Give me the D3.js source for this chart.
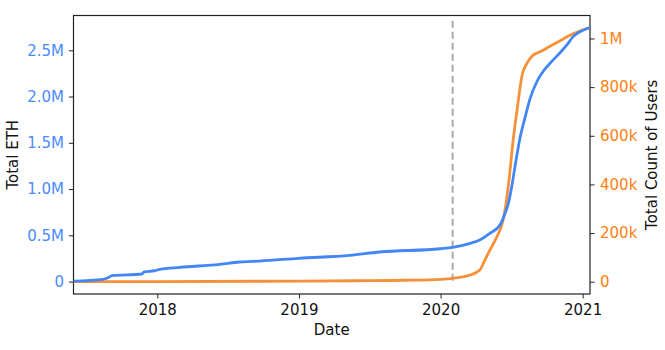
<!DOCTYPE html>
<html>
<head>
<meta charset="utf-8">
<script src="https://cdn.jsdelivr.net/npm/d3@7"></script>
<style>
  html, body { margin: 0; padding: 0; background: #fff; }
  svg { display: block; font-family: "DejaVu Sans", sans-serif; }
</style>
</head>
<body>
<svg id="chart" width="665" height="350"></svg>
<script>
// ---- data ----
const ethDates = ["2017-05-30","2017-08-14","2017-08-27","2017-09-06","2017-11-22","2017-11-28","2017-12-26","2018-01-08","2018-02-28","2018-06-11","2018-08-01","2018-09-22","2019-01-01","2019-05-12","2019-07-28","2019-12-31","2020-02-01","2020-03-17","2020-04-11","2020-05-07","2020-06-02","2020-06-15","2020-06-24","2020-07-02","2020-07-11","2020-07-24","2020-08-06","2020-08-18","2020-09-05","2020-09-21","2020-10-09","2020-11-03","2020-11-21","2020-12-07","2020-12-25","2021-01-20"];
const ethValues = [5000,25000,42000,64000,82000,104000,118000,133000,154000,187000,212000,222000,252000,284000,320000,355000,370000,414000,449000,522000,611000,735000,850000,1020000,1250000,1560000,1780000,1970000,2160000,2270000,2360000,2470000,2555000,2645000,2700000,2746000];

const userDates = ["2017-05-30","2018-01-01","2018-09-22","2019-06-01","2019-10-01","2019-12-31","2020-02-01","2020-03-17","2020-04-11","2020-04-24","2020-05-07","2020-05-25","2020-06-10","2020-06-20","2020-06-28","2020-07-05","2020-07-16","2020-07-29","2020-08-10","2020-08-26","2020-09-13","2020-10-09","2020-11-03","2020-11-29","2020-12-25","2021-01-20"];
const userValues = [0,500,2000,4000,6000,10000,14000,27500,48000,89000,130000,185000,253000,349000,459000,569000,705000,849000,897000,931000,945000,968000,990000,1013000,1031000,1045000];

const xDomain = ["2017-05-30","2021-01-20"];
const xTickYears = ["2018-01-01","2019-01-01","2020-01-01","2021-01-01"];
const leftDomain = [-134000, 2876000];
const leftTicks = [0, 500000, 1000000, 1500000, 2000000, 2500000];
const leftTickLabels = ["0","0.5M","1.0M","1.5M","2.0M","2.5M"];
const rightDomain = [-50500, 1094500];
const rightTicks = [0, 200000, 400000, 600000, 800000, 1000000];
const rightTickLabels = ["0","200k","400k","600k","800k","1M"];
const markerDate = "2020-02-01";

// ---- layout ----
const svg = d3.select("#chart");
const mLeft = 73.5, mRight = 590, mTop = 15.5, mBottom = 294;
const parse = d3.utcParse("%Y-%m-%d");
const blue = "#4287f5", blueText = "#4a8cff";
const orange = "#f5913a", orangeText = "#ff7f0e";

const x = d3.scaleUtc().domain(xDomain.map(parse)).range([mLeft, mRight]);
const yL = d3.scaleLinear().domain(leftDomain).range([mBottom, mTop]);
const yR = d3.scaleLinear().domain(rightDomain).range([mBottom, mTop]);

// axes
const gx = svg.append("g").attr("transform", `translate(0,${mBottom})`)
  .call(d3.axisBottom(x).tickValues(xTickYears.map(parse)).tickFormat(d3.utcFormat("%Y")).tickSizeOuter(0).tickSize(4.5).tickPadding(5.5));
const gl = svg.append("g").attr("transform", `translate(${mLeft},0)`)
  .call(d3.axisLeft(yL).tickValues(leftTicks).tickFormat((d,i) => leftTickLabels[i]).tickSizeOuter(0).tickSize(4.5).tickPadding(5));
const gr = svg.append("g").attr("transform", `translate(${mRight},0)`)
  .call(d3.axisRight(yR).tickValues(rightTicks).tickFormat((d,i) => rightTickLabels[i]).tickSizeOuter(0).tickSize(4.5).tickPadding(5.5));

[gx, gl, gr].forEach(g => {
  g.select(".domain").remove();
  g.selectAll("text").attr("font-size", 15).attr("font-family", "DejaVu Sans, sans-serif");
  g.selectAll(".tick line").attr("stroke", "#222").attr("stroke-width", 1);
});
gx.selectAll("text").attr("fill", "#111");
gl.selectAll("text").attr("fill", blueText);
gr.selectAll("text").attr("fill", orangeText);

// frame
svg.append("rect").attr("x", mLeft).attr("y", mTop).attr("width", mRight - mLeft).attr("height", mBottom - mTop)
  .attr("fill", "none").attr("stroke", "#222").attr("stroke-width", 1.2);

// marker line
svg.append("line")
  .attr("x1", x(parse(markerDate))).attr("x2", x(parse(markerDate)))
  .attr("y1", yR(1073000)).attr("y2", yR(0))
  .attr("stroke", "#aaa").attr("stroke-width", 2).attr("stroke-dasharray", "7,4");

// lines
svg.append("clipPath").attr("id", "clip").append("rect")
  .attr("x", mLeft).attr("y", mTop).attr("width", mRight - mLeft).attr("height", mBottom - mTop);

const ethData = ethDates.map((d, i) => ({ d: parse(d), v: ethValues[i] }));
const userData = userDates.map((d, i) => ({ d: parse(d), v: userValues[i] }));

svg.append("path").datum(userData)
  .attr("clip-path", "url(#clip)")
  .attr("fill", "none").attr("stroke", orange).attr("stroke-width", 2.8).attr("stroke-linejoin", "round")
  .attr("d", d3.line().x(p => x(p.d)).y(p => yR(p.v)).curve(d3.curveMonotoneX));

svg.append("path").datum(ethData)
  .attr("clip-path", "url(#clip)")
  .attr("fill", "none").attr("stroke", blue).attr("stroke-width", 2.8).attr("stroke-linejoin", "round")
  .attr("d", d3.line().x(p => x(p.d)).y(p => yL(p.v)).curve(d3.curveMonotoneX));

// axis titles
svg.append("text").attr("x", (mLeft + mRight) / 2).attr("y", 335).attr("text-anchor", "middle")
  .attr("font-size", 15).attr("fill", "#111").text("Date");
svg.append("text").attr("transform", `translate(18,${(mTop + mBottom) / 2}) rotate(-90)`).attr("text-anchor", "middle")
  .attr("font-size", 15).attr("fill", "#111").text("Total ETH");
svg.append("text").attr("transform", `translate(657,${(mTop + mBottom) / 2}) rotate(-90)`).attr("text-anchor", "middle")
  .attr("font-size", 15).attr("fill", "#111").text("Total Count of Users");
</script>
</body>
</html>
